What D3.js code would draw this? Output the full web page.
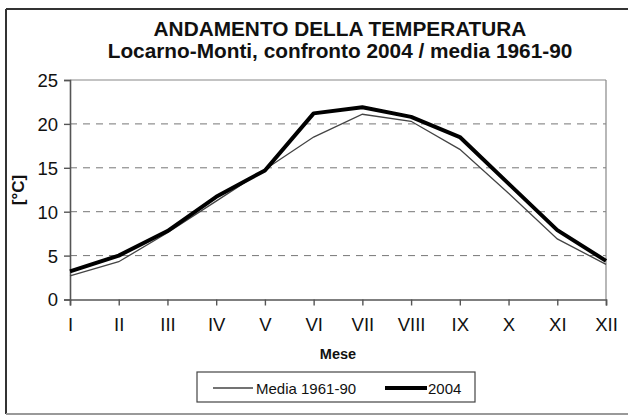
<!DOCTYPE html>
<html><head><meta charset="utf-8">
<script src="https://cdn.jsdelivr.net/npm/d3@7"></script>
<style>body{margin:0;background:#fff}svg{display:block}</style>
</head><body>
<svg id="c" width="628" height="416"></svg>
<script>
const months = ["I","II","III","IV","V","VI","VII","VIII","IX","X","XI","XII"];
const media = [2.7, 4.3, 7.6, 11.2, 14.8, 18.5, 21.1, 20.3, 17.1, 12.1, 6.9, 4.0];
const y2004 = [3.2, 5.0, 7.8, 11.7, 14.7, 21.2, 21.9, 20.8, 18.5, 13.2, 7.9, 4.4];
const yTicks = [0, 5, 10, 15, 20, 25];
const titleLines = ["ANDAMENTO DELLA TEMPERATURA", "Locarno-Monti, confronto 2004 / media 1961-90"];

const svg = d3.select("#c");
const font = "Liberation Sans, Arial, sans-serif";
const L = 70, R = 606, T = 80, B = 299.5;

// outer frame
svg.append("line").attr("x1",6).attr("x2",628).attr("y1",9).attr("y2",9).attr("stroke","#333").attr("stroke-width",2);
svg.append("line").attr("x1",6).attr("x2",6).attr("y1",9).attr("y2",414).attr("stroke","#333").attr("stroke-width",2);
svg.append("line").attr("x1",6).attr("x2",628).attr("y1",414).attr("y2",414).attr("stroke","#999").attr("stroke-width",2);

// titles
svg.append("text").attr("x",340).attr("y",36).attr("text-anchor","middle")
  .attr("font-family",font).attr("font-weight","bold").attr("font-size",20.8).attr("fill","#111").text(titleLines[0]);
svg.append("text").attr("x",340).attr("y",58).attr("text-anchor","middle")
  .attr("font-family",font).attr("font-weight","bold").attr("font-size",20.8).attr("fill","#111").text(titleLines[1]);

const x = d3.scalePoint().domain(months).range([L, R]);
const y = d3.scaleLinear().domain([0, 25]).range([B, T]);

// grid
svg.append("g").selectAll("line").data(yTicks.filter(d => d > 0 && d < 25)).join("line")
  .attr("x1", L).attr("x2", R).attr("y1", d => y(d)).attr("y2", d => y(d))
  .attr("stroke", "#777").attr("stroke-width", 1).attr("stroke-dasharray", "7,6");

// plot border top/right
svg.append("line").attr("x1",L).attr("x2",R).attr("y1",T).attr("y2",T).attr("stroke","#888").attr("stroke-width",1.2);
svg.append("line").attr("x1",R).attr("x2",R).attr("y1",T).attr("y2",B).attr("stroke","#888").attr("stroke-width",1.2);

// axes
const yAxis = svg.append("g").attr("transform",`translate(${L},0)`)
  .call(d3.axisLeft(y).tickValues(yTicks).tickSize(6).tickPadding(6));
const xAxis = svg.append("g").attr("transform",`translate(0,${B})`)
  .call(d3.axisBottom(x).tickSize(6).tickPadding(12.5));
[yAxis, xAxis].forEach(g => {
  g.select(".domain").attr("stroke","#555").attr("stroke-width",1.6);
  g.selectAll(".tick line").attr("stroke","#555").attr("stroke-width",1.4);
  g.selectAll("text").attr("font-family",font).attr("font-size",18.5).attr("fill","#111");
});
yAxis.selectAll("text").attr("dy","0.35em");

// lines
const line = d3.line().x((d,i) => x(months[i])).y(d => y(d));
svg.append("path").datum(media).attr("d", line).attr("fill","none").attr("stroke","#444").attr("stroke-width",1.3);
svg.append("path").datum(y2004).attr("d", line).attr("fill","none").attr("stroke","#000").attr("stroke-width",4).attr("stroke-linejoin","round");

// axis titles
svg.append("text").attr("transform","translate(24,190) rotate(-90)").attr("text-anchor","middle")
  .attr("font-family",font).attr("font-weight","bold").attr("font-size",17).attr("fill","#111").text("[°C]");
svg.append("text").attr("x",338).attr("y",359).attr("text-anchor","middle")
  .attr("font-family",font).attr("font-weight","bold").attr("font-size",14.5).attr("fill","#111").text("Mese");

// legend
svg.append("rect").attr("x",197).attr("y",372).attr("width",278).attr("height",30)
  .attr("fill","#fff").attr("stroke","#444").attr("stroke-width",1.2);
const leg = [{name:"Media 1961-90", w:1.3, c:"#444", x1:213, x2:253, tx:256},
             {name:"2004", w:4, c:"#000", x1:385, x2:427, tx:428}];
leg.forEach(d => {
  svg.append("line").attr("x1",d.x1).attr("x2",d.x2).attr("y1",388).attr("y2",388).attr("stroke",d.c).attr("stroke-width",d.w);
  svg.append("text").attr("x",d.tx).attr("y",393.5).attr("font-family",font).attr("font-size",15).attr("fill","#111").text(d.name);
});
</script>
</body></html>
